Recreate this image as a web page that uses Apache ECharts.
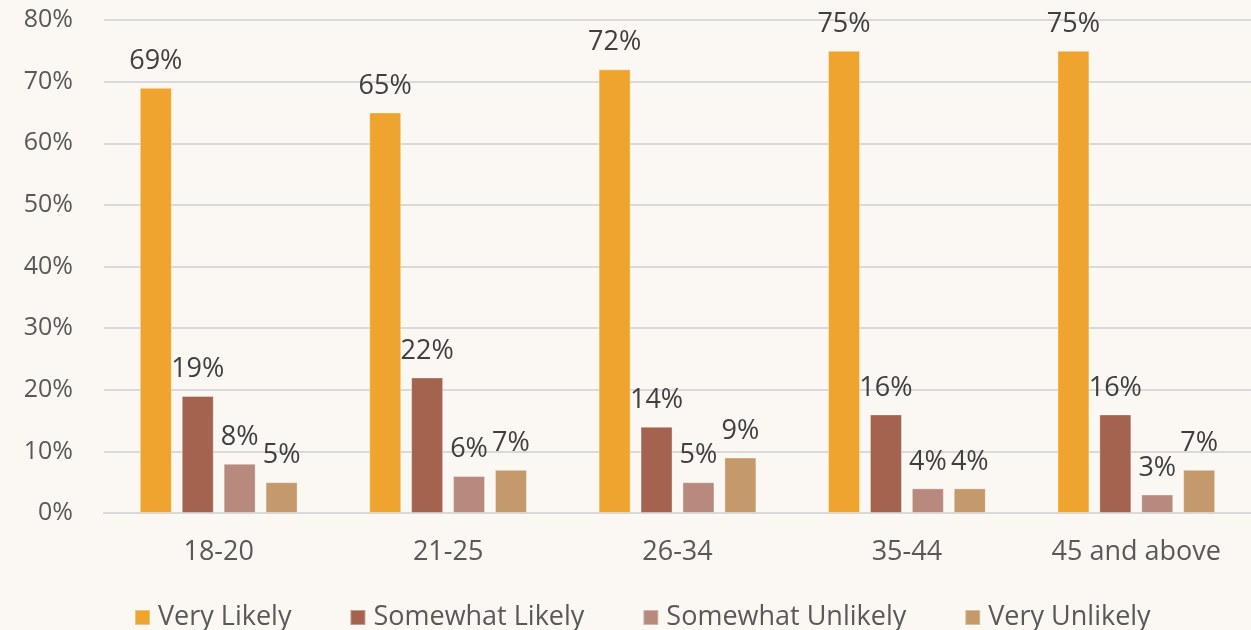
<!DOCTYPE html>
<html>
<head>
<meta charset="utf-8">
<script src="https://cdn.jsdelivr.net/npm/echarts@6/dist/echarts.min.js"></script>
<style>
html,body{margin:0;padding:0;background:#FBF8F3;}
#chart{width:1251px;height:630px;}
</style>
</head>
<body>
<div id="chart"></div>
<script>
const categories = ['18-20', '21-25', '26-34', '35-44', '45 and above'];
const seriesNames = ['Very Likely', 'Somewhat Likely', 'Somewhat Unlikely', 'Very Unlikely'];
const veryLikely = [69, 65, 72, 75, 75];
const somewhatLikely = [19, 22, 14, 16, 16];
const somewhatUnlikely = [8, 6, 5, 4, 3];
const veryUnlikely = [5, 7, 9, 4, 7];
const yTicks = [0, 10, 20, 30, 40, 50, 60, 70, 80];

const colors = ['#EFA430', '#A3634E', '#B88A7E', '#C4996B'];
const values = [veryLikely, somewhatLikely, somewhatUnlikely, veryUnlikely];
const font = '"Open Sans", "Noto Sans", sans-serif';

const chart = echarts.init(document.getElementById('chart'), null, {renderer: 'canvas'});
chart.setOption({
  backgroundColor: '#FBF8F3',
  animation: false,
  textStyle: {fontFamily: font},
  grid: {left: 104, right: 0, top: 20, bottom: 117, containLabel: false},
  legend: {
    bottom: -6,
    left: 129,
    itemWidth: 15,
    itemHeight: 15,
    itemGap: 58,
    icon: 'rect',
    textStyle: {fontSize: 27, color: '#595959', fontFamily: font, padding: [0, 0, 0, 3]},
    data: seriesNames
  },
  xAxis: {
    type: 'category',
    data: categories,
    axisLine: {show: true, lineStyle: {color: '#D9D9D9', width: 2}},
    axisTick: {show: false},
    axisLabel: {fontSize: 27, color: '#595959', margin: 26, fontFamily: font}
  },
  yAxis: {
    type: 'value',
    min: yTicks[0],
    max: yTicks[yTicks.length - 1],
    interval: 10,
    axisLine: {show: false},
    axisTick: {show: false},
    splitLine: {lineStyle: {color: '#D9D9D9', width: 2}},
    axisLabel: {fontSize: 25, color: '#595959', margin: 31, formatter: '{value}%', fontFamily: font}
  },
  series: seriesNames.map((name, i) => ({
    name: name,
    type: 'bar',
    data: values[i],
    barWidth: 32,
    barGap: '31%',
    itemStyle: {color: colors[i], borderColor: 'rgba(255,255,255,0.35)', borderWidth: 1},
    label: {
      show: true,
      position: 'top',
      distance: 13,
      formatter: '{c}%',
      fontSize: 27,
      color: '#404040',
      fontFamily: font
    }
  }))
});
</script>
</body>
</html>
